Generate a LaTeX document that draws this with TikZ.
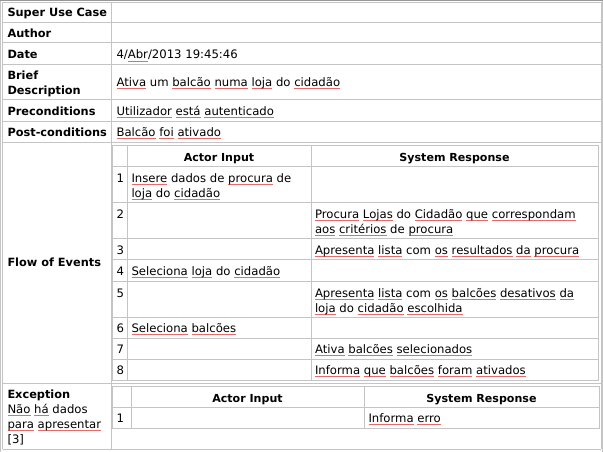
\documentclass[tikz,border=0pt]{standalone}
\usepackage{fontspec}
\setmainfont{DejaVu Sans}
\definecolor{lineg}{RGB}{196,196,196}
\definecolor{outg}{RGB}{150,150,150}
\definecolor{spred}{RGB}{232,105,105}
\newsavebox{\rdbox}
\newcommand\redu[1]{\sbox{\rdbox}{#1}\rlap{\textcolor{spred}{\rule[-2.0pt]{\wd\rdbox}{0.75pt}}}\usebox{\rdbox}}
\begin{document}
\begin{tikzpicture}[x=0.75pt,y=-0.75pt,
  every node/.style={inner sep=0pt,outer sep=0pt,font=\fontsize{8.75}{11.6}\selectfont},
  lbl/.style={anchor=base west,font=\fontsize{8.5}{11.6}\selectfont\bfseries},
  txt/.style={anchor=base west},
  hdr/.style={anchor=base,font=\fontsize{8.3}{11.6}\selectfont\bfseries},
  gridline/.style={draw=lineg,line width=0.75pt},
  outline/.style={draw=lineg,line width=0.75pt}]
\useasboundingbox (0,0) rectangle (603,452);
% outer border
\draw[outline] (0.5,452) -- (0.5,0.5);
\draw[outline] (602.5,0.5) -- (602.5,452);
\draw[draw=outg,line width=0.75pt] (0,0.5) -- (603,0.5);
% main grid
\foreach \yy in {2.5,22.5,43,64.5,100,121.5,143,383.5,449}
  \draw[gridline] (2.5,\yy) -- (601,\yy);
\foreach \xx in {2.5,111,601}
  \draw[gridline] (\xx,2.5) -- (\xx,449);
% flow of events inner table
\draw[gridline] (112.5,146) rectangle (598.5,380);
\foreach \yy in {167,203,239,260,282,317,338,359}
  \draw[gridline] (112.5,\yy) -- (598.5,\yy);
\foreach \xx in {127,311}
  \draw[gridline] (\xx,146) -- (\xx,380);
% exception inner table
\draw[gridline] (112.5,386.5) rectangle (599,428);
\draw[gridline] (112.5,407) -- (599,407);
\foreach \xx in {131,364}
  \draw[gridline] (\xx,386.5) -- (\xx,428);
% left labels
\node[lbl] (l1) at (7.5,17) {Super Use Case};
\node[lbl] (l2) at (7.5,37.5) {Author};
\node[lbl] (l3) at (7.5,59) {Date};
\node[lbl] (l4a) at (7.5,79.5) {Brief};
\node[lbl] (l4b) at (7.5,94.5) {Description};
\node[lbl] (l5) at (7.5,115.5) {Preconditions};
\node[lbl] (l6) at (7.5,136.5) {Post-conditions};
\node[lbl] (l7) at (7.5,266.5) {Flow of Events};
\node[lbl] (l8) at (7.5,398) {Exception};
\node[txt] (l8a) at (7.5,413) {\redu{Não} \redu{há} dados};
\node[txt] (l8b) at (7.5,428) {\redu{para} \redu{apresentar}};
\node[txt] (l8c) at (7.5,443) {[3]};
% right column values
\node[txt] (r3) at (116.5,59) {4/\redu{Abr}/2013 19:45:46};
\node[txt] (r4) at (116.5,86.5) {\redu{Ativa} um \redu{balcão} \redu{numa} \redu{loja} do \redu{cidadão}};
\node[txt] (r5) at (116.5,115.5) {\redu{Utilizador} \redu{está} \redu{autenticado}};
\node[txt] (r6) at (116.5,136.5) {\redu{Balcão} \redu{foi} \redu{ativado}};
% flow headers
\node[hdr] (fh1) at (219,161.5) {Actor Input};
\node[hdr] (fh2) at (454.5,161.5) {System Response};
% flow numbers
\node[txt] (n1) at (116.5,182.5) {1};
\node[txt] (n2) at (116.5,218.5) {2};
\node[txt] (n3) at (116.5,254.5) {3};
\node[txt] (n4) at (116.5,275.5) {4};
\node[txt] (n5) at (116.5,297.5) {5};
\node[txt] (n6) at (116.5,332.5) {6};
\node[txt] (n7) at (116.5,353.5) {7};
\node[txt] (n8) at (116.5,374.5) {8};
% flow actor input
\node[txt] (a1a) at (131.5,182.5) {\redu{Insere} dados de \redu{procura} de};
\node[txt] (a1b) at (131.5,197.5) {\redu{loja} do \redu{cidadão}};
\node[txt] (a4) at (131.5,275.5) {\redu{Seleciona} \redu{loja} do \redu{cidadão}};
\node[txt] (a6) at (131.5,332.5) {\redu{Seleciona} \redu{balcões}};
% flow system response
\node[txt] (s2a) at (315,218.5) {\redu{Procura} \redu{Lojas} do \redu{Cidadão} \redu{que} \redu{correspondam}};
\node[txt] (s2b) at (315,233.5) {\redu{aos} \redu{critérios} de \redu{procura}};
\node[txt] (s3) at (315,254.5) {\redu{Apresenta} \redu{lista} com \redu{os} \redu{resultados} \redu{da} \redu{procura}};
\node[txt] (s5a) at (315,297.5) {\redu{Apresenta} \redu{lista} com \redu{os} \redu{balcões} \redu{desativos} \redu{da}};
\node[txt] (s5b) at (315,312.5) {\redu{loja} do \redu{cidadão} \redu{escolhida}};
\node[txt] (s7) at (315,353.5) {\redu{Ativa} \redu{balcões} \redu{selecionados}};
\node[txt] (s8) at (315,374.5) {\redu{Informa} \redu{que} \redu{balcões} \redu{foram} \redu{ativados}};
% exception table
\node[hdr] (eh1) at (247.5,402) {Actor Input};
\node[hdr] (eh2) at (481.5,402) {System Response};
\node[txt] (en1) at (116.5,422.5) {1};
\node[txt] (es1) at (368.5,422.5) {\redu{Informa} \redu{erro}};
\end{tikzpicture}
\end{document}
